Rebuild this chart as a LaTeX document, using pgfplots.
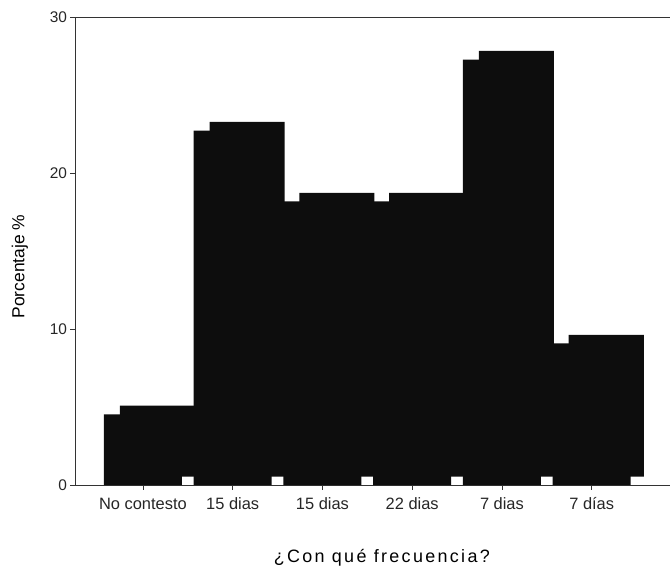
\documentclass[border=0pt]{standalone}
\usepackage{pgfplots}
\pgfplotsset{compat=1.18}
\usepackage{pgfplotstable}
\usepackage{fontspec}
\setmainfont{Liberation Sans}

\definecolor{barfill}{gray}{0.05}
\definecolor{axisgray}{gray}{0.2}

% share of answers per category (n = 22)
\pgfplotstableread{
pos pct
0 4.545
1 22.727
2 18.182
3 18.182
4 27.273
5 9.091
}\frecuencia

\pgfplotsset{
  frame/.style={
    width=595bp, height=468.5bp, scale only axis,
    xmin=-0.7572, xmax=5.8686,
    enlargelimits=false,
  },
}

\begin{document}
\begin{tikzpicture}
% depth face of each 3-D bar, raised and shifted to the right
\begin{axis}[frame, hide axis, ymin=-0.55, ymax=29.45]
  \addplot[ybar, bar width=0.836, bar shift=0.162, fill=barfill, draw=none]
    table[x=pos, y=pct] {\frecuencia};
\end{axis}
% front face and axes
\begin{axis}[frame,
  ymin=0, ymax=30,
  axis x line=box, axis y line=left,
  axis line style={-, draw=axisgray, line width=0.7bp},
  xtick={0,...,5},
  xticklabels={No contesto, 15 dias, 15 dias, 22 dias, 7 dias, 7 días},
  ytick={0,10,20,30},
  xtick pos=bottom, ytick pos=left,
  tick align=outside, major tick length=4.5bp,
  tick style={draw=axisgray, line width=0.7bp},
  /pgf/number format/assume math mode=true,
  ticklabel style={font=\fontsize{15.5}{18}\selectfont, text=black!85},
  xticklabel style={font=\fontsize{16.5}{18}\selectfont, text height=12.2bp, yshift=-4.5bp},
  xlabel={¿Con qué frecuencia?},
  ylabel={Porcentaje \%},
  every axis x label/.style={at={(axis description cs:0.516,-0.1654)}, anchor=base,
    font=\fontsize{18}{20}\selectfont\addfontfeature{LetterSpace=13}},
  every axis y label/.style={at={(axis description cs:-0.0849,0.467)}, rotate=90, anchor=base,
    font=\fontsize{17.5}{20}\selectfont},
]
  \addplot[ybar, bar width=0.869, bar shift=0, fill=barfill, draw=none]
    table[x=pos, y=pct] {\frecuencia};
\end{axis}
\path ([shift={(-75bp,-82.5bp)}]current axis.south west)
  rectangle ([shift={(0bp,17bp)}]current axis.north east);
\end{tikzpicture}
\end{document}
